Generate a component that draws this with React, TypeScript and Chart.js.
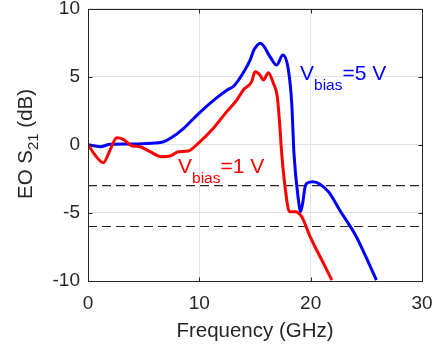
import React, { useEffect, useRef } from "react";
import { Chart, registerables } from "chart.js";

Chart.register(...registerables);

// Frequency (GHz) and EO S21 (dB)
const freqBlue = [0, 1.1, 2.0, 3.8, 5.3, 6.8, 7.4, 8.6, 9.8, 11.3, 12.5, 13.1, 14.0, 14.55, 14.9, 15.5, 16.35, 16.95, 17.5, 18.0, 18.3, 18.5, 18.9, 19.1, 19.3, 19.5, 19.65, 20.2, 21.6, 22.6, 24.1, 25.9];
const gainBlue = [0, -0.14, 0.03, 0.05, 0.1, 0.22, 0.47, 1.21, 2.18, 3.28, 4.02, 4.31, 5.36, 6.2, 6.95, 7.45, 6.46, 5.85, 6.59, 5.49, 3.04, -0.63, -4.05, -4.91, -4.2, -3.08, -2.83, -2.71, -3.45, -4.79, -6.75, -9.93];

const freqRed = [0, 0.63, 1.38, 1.98, 2.58, 3.17, 3.93, 4.67, 5.57, 6.62, 7.37, 8.11, 9.0, 9.9, 11.26, 12.46, 13.36, 13.95, 14.7, 15.0, 15.45, 15.75, 16.2, 16.65, 17.0, 17.19, 17.4, 17.7, 18.09, 18.6, 19.2, 19.95, 21.3, 21.9];
const gainRed = [0, -0.75, -1.32, -0.39, 0.52, 0.4, -0.07, -0.14, -0.51, -0.88, -0.83, -0.51, -0.46, 0.11, 1.21, 2.43, 3.28, 4.02, 4.63, 5.36, 5.12, 4.75, 5.29, 4.51, 3.53, 1.82, -0.63, -3.08, -4.91, -4.91, -5.28, -6.75, -8.95, -9.93];

const refLevels = [-3, -6];
const refRange = [0, 30];

const xTicks = [0, 10, 20, 30];
const yTicks = [-10, -5, 0, 5, 10];

const FONT = "'Liberation Sans', Arial, sans-serif";
const TXT = "#262626";

const decorPlugin = {
  id: "decor",
  afterDraw(chart: any) {
    const { ctx, chartArea: a, scales } = chart;
    const L = Math.round(a.left) + 0.5;
    const R = Math.round(a.right) + 0.5;
    const T = Math.round(a.top) + 0.5;
    const B = Math.round(a.bottom) + 0.5;
    ctx.save();
    ctx.strokeStyle = TXT;
    ctx.lineWidth = 1;
    ctx.strokeRect(L, T, R - L, B - T);
    const tl = 4;
    ctx.beginPath();
    for (const v of yTicks) {
      const y = Math.round(scales.y.getPixelForValue(v)) + 0.5;
      ctx.moveTo(L, y); ctx.lineTo(L + tl, y);
      ctx.moveTo(R, y); ctx.lineTo(R - tl, y);
    }
    for (const v of xTicks) {
      const x = Math.round(scales.x.getPixelForValue(v)) + 0.5;
      ctx.moveTo(x, B); ctx.lineTo(x, B - tl);
      ctx.moveTo(x, T); ctx.lineTo(x, T + tl);
    }
    ctx.stroke();

    // x title
    ctx.fillStyle = TXT;
    ctx.font = `20.5px ${FONT}`;
    ctx.textAlign = "center";
    ctx.textBaseline = "alphabetic";
    ctx.fillText("Frequency (GHz)", (a.left + a.right) / 2, 337);

    // y title with subscript
    const big = `20.5px ${FONT}`;
    const small = `15px ${FONT}`;
    const parts: [string, string, number][] = [
      ["EO S", big, 0],
      ["21", small, 6],
      [" (dB)", big, 0],
    ];
    let total = 0;
    for (const [t, f] of parts) { ctx.font = f; total += ctx.measureText(t).width; }
    ctx.save();
    ctx.translate(32, 144);
    ctx.rotate(-Math.PI / 2);
    ctx.textAlign = "left";
    let cx = -total / 2;
    for (const [t, f, dy] of parts) {
      ctx.font = f;
      ctx.fillText(t, cx, dy);
      cx += ctx.measureText(t).width;
    }
    ctx.restore();

    // series labels
    const drawLabel = (x: number, y: number, color: string, rest: string) => {
      ctx.fillStyle = color;
      ctx.textAlign = "left";
      ctx.font = `21px ${FONT}`;
      ctx.fillText("V", x, y);
      let px = x + ctx.measureText("V").width;
      ctx.font = `15.5px ${FONT}`;
      ctx.fillText("bias", px, y + 10);
      px += ctx.measureText("bias").width;
      ctx.font = `21px ${FONT}`;
      ctx.fillText(rest, px, y);
    };
    drawLabel(300, 80, "#0000ff", "=5 V");
    drawLabel(178, 173, "#ff0000", "=1 V");
    ctx.restore();
  },
};

export default function App() {
  const ref = useRef<HTMLCanvasElement | null>(null);
  useEffect(() => {
    if (!ref.current) return;
    const pts = (xs: number[], ys: number[]) => xs.map((x, i) => ({ x, y: ys[i] }));
    const chart = new Chart(ref.current, {
      type: "line",
      data: {
        datasets: [
          {
            label: "Vbias=1 V",
            data: pts(freqRed, gainRed),
            borderColor: "#ff0000",
            borderWidth: 3,
            pointRadius: 0,
            cubicInterpolationMode: "monotone",
            order: 0,
          },
          {
            label: "Vbias=5 V",
            data: pts(freqBlue, gainBlue),
            borderColor: "#0000ff",
            borderWidth: 3,
            pointRadius: 0,
            cubicInterpolationMode: "monotone",
            order: 1,
          },
          ...refLevels.map((lv) => ({
            label: `${lv} dB`,
            data: refRange.map((x) => ({ x, y: lv })),
            borderColor: "#262626",
            borderWidth: 1.2,
            borderDash: [9, 5],
            pointRadius: 0,
            order: 2,
          })),
        ],
      },
      options: {
        responsive: false,
        animation: false,
        layout: { padding: { left: 0, top: 8.5, right: 16, bottom: 0 } },
        plugins: { legend: { display: false }, tooltip: { enabled: false } },
        scales: {
          x: {
            type: "linear",
            min: 0,
            max: 30,
            afterBuildTicks: (s: any) => { s.ticks = xTicks.map((v) => ({ value: v })); },
            afterFit: (s: any) => { s.height = 69; s.paddingLeft = 0; s.paddingRight = 0; },
            ticks: { color: TXT, font: { family: FONT, size: 19 }, padding: 11, maxRotation: 0 },
            grid: { color: "#e3e3e3", drawTicks: false },
            border: { display: false },
          },
          y: {
            type: "linear",
            min: -10,
            max: 10,
            afterBuildTicks: (s: any) => { s.ticks = yTicks.map((v) => ({ value: v })); },
            afterFit: (s: any) => { s.width = 88; s.paddingTop = 0; s.paddingBottom = 0; },
            ticks: { color: TXT, font: { family: FONT, size: 19 }, padding: 8 },
            grid: { color: "#e3e3e3", drawTicks: false },
            border: { display: false },
          },
        },
      },
      plugins: [decorPlugin],
    } as any);
    return () => chart.destroy();
  }, []);
  return (
    <div style={{ position: "fixed", left: 0, top: 0, width: 438, height: 350, background: "#fff" }}>
      <canvas ref={ref} width={438} height={350} />
    </div>
  );
}
